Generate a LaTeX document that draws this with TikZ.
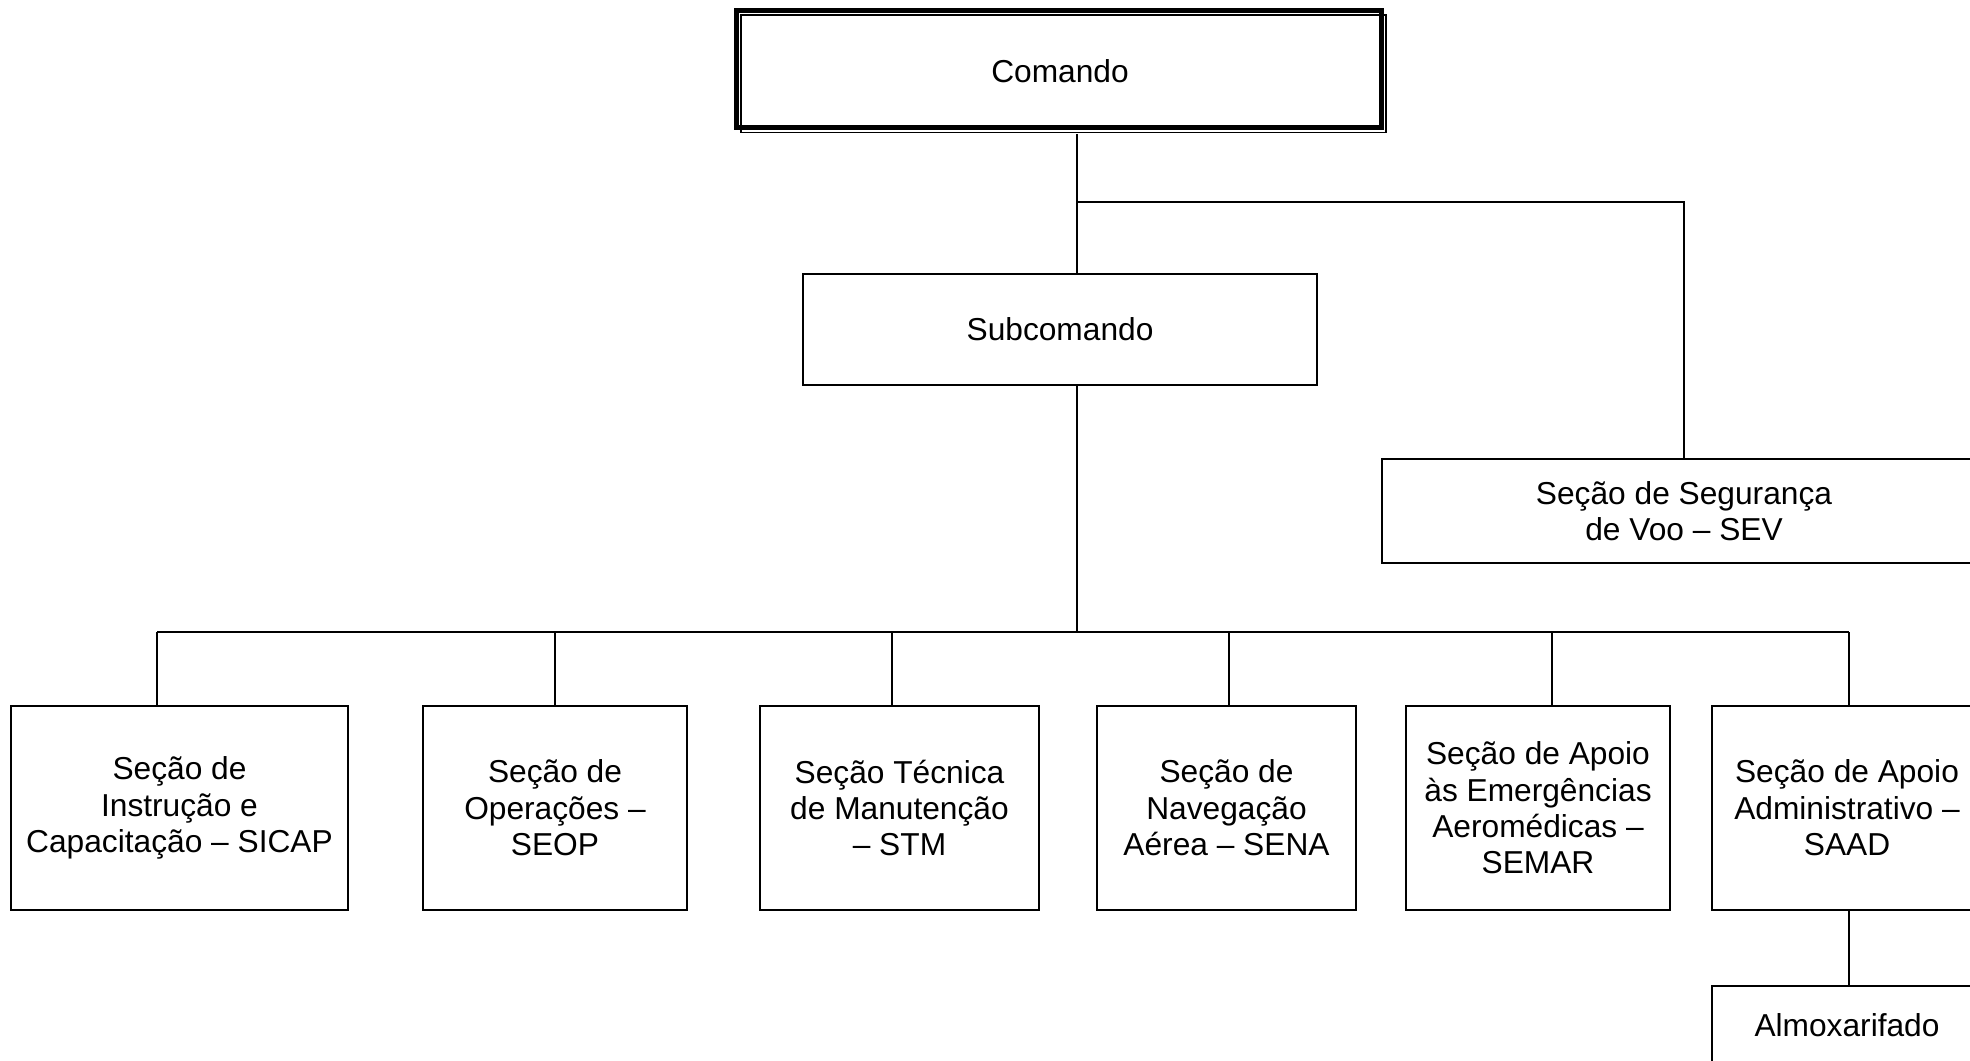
\documentclass[tikz,border=0pt]{standalone}
\usepackage{fontspec}
\setmainfont{Liberation Sans}
\begin{document}
\begin{tikzpicture}[x=1pt,y=-1pt,
  box/.style={draw=black,line width=2pt,rectangle,inner sep=0pt,align=center,
    font=\fontsize{31.7}{36.4}\selectfont},
  plain/.style={rectangle,inner sep=0pt,align=center,font=\fontsize{31.7}{36.4}\selectfont},
  conn/.style={draw=black,line width=2pt}]
\useasboundingbox (0,0) rectangle (1970,1060);
\clip (0,0) rectangle (1970,1060);
\fill[white] (0,0) rectangle (1970,1060);
% Comando with thick-thin frame
\draw[line width=5pt] (736,10.5) rectangle (1381,127);
\draw[line width=1.8pt] (741,15) rectangle (1386,132.5);
\node[plain,minimum width=655pt,minimum height=126pt] (comando) at (1060,71) {Comando};
\node[box,minimum width=514pt,minimum height=111pt] (sub) at (1060,329.5) {Subcomando};
\node[box,minimum width=604pt,minimum height=104pt] (sev) at (1684,511) {Seção de Segurança\\de Voo – SEV};
\node[box,minimum width=337pt,minimum height=204pt] (b1) at (179.5,808) {Seção de\\Instrução e\\Capacitação – SICAP};
\node[box,minimum width=264pt,minimum height=204pt] (b2) at (555,808) {Seção de\\Operações –\\SEOP};
\node[box,minimum width=279pt,minimum height=204pt] (b3) at (899.5,808) {Seção Técnica\\de Manutenção\\– STM};
\node[box,minimum width=259pt,minimum height=204pt] (b4) at (1226.5,808) {Seção de\\Navegação\\Aérea – SENA};
\node[box,minimum width=264pt,minimum height=204pt] (b5) at (1538,808) {Seção de Apoio\\às Emergências\\Aeromédicas –\\SEMAR};
\node[box,minimum width=270pt,minimum height=204pt] (b6) at (1847,808) {Seção de Apoio\\Administrativo –\\SAAD};
\node[box,minimum width=270pt,minimum height=78pt] (almox) at (1847,1025) {Almoxarifado};
% connectors
\coordinate (j1) at (1077,202);
\coordinate (bus) at (1077,632);
\coordinate (d1) at (157,632);
\coordinate (d2) at (555,632);
\coordinate (d3) at (892,632);
\coordinate (d4) at (1229,632);
\coordinate (d5) at (1552,632);
\coordinate (d6) at (1849,632);
\draw[conn] (j1 |- comando.south) -- (j1 |- sub.north);
\draw[conn] (j1) -| (sev.north);
\draw[conn] (bus |- sub.south) -- (bus);
\draw[conn] (d1) -- (d6);
\draw[conn] (d1) -- (d1 |- b1.north);
\draw[conn] (d2) -- (d2 |- b2.north);
\draw[conn] (d3) -- (d3 |- b3.north);
\draw[conn] (d4) -- (d4 |- b4.north);
\draw[conn] (d5) -- (d5 |- b5.north);
\draw[conn] (d6) -- (d6 |- b6.north);
\draw[conn] (d6 |- b6.south) -- (d6 |- almox.north);
\end{tikzpicture}
\end{document}
